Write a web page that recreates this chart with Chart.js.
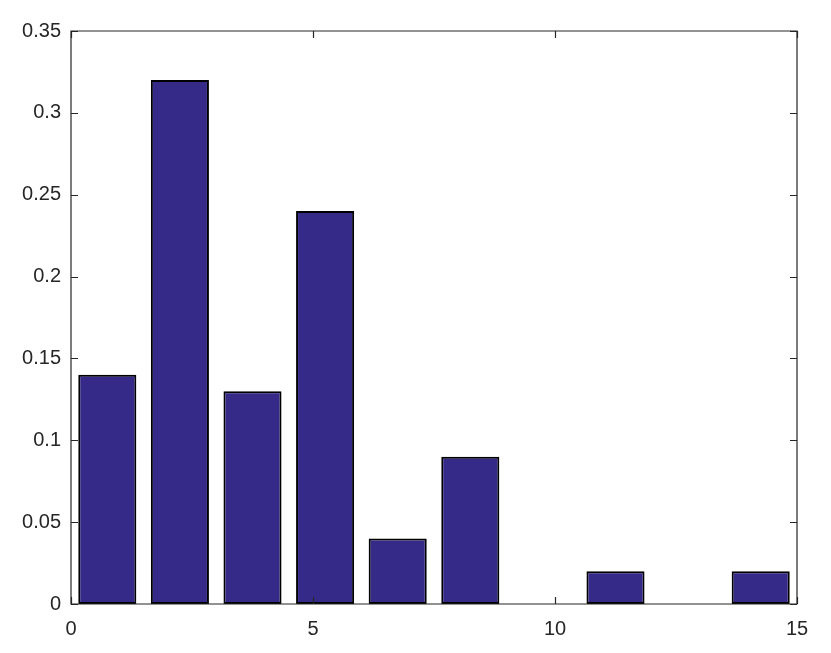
<!DOCTYPE html>
<html>
<head>
<meta charset="utf-8">
<script src="https://cdn.jsdelivr.net/npm/chart.js@4/dist/chart.umd.min.js"></script>
<style>
  html, body { margin: 0; padding: 0; background: #ffffff; }
  #wrap { width: 831px; height: 653px; position: relative; }
</style>
</head>
<body>
<div id="wrap"><canvas id="c" width="831" height="653"></canvas></div>
<script>
const binCenters = [0.75, 2.25, 3.75, 5.25, 6.75, 8.25, 9.75, 11.25, 12.75, 14.25];
const binValues  = [0.14, 0.32, 0.13, 0.24, 0.04, 0.09, 0, 0.02, 0, 0.02];
const xTicks = [0, 5, 10, 15];
const yTicks = [0, 0.05, 0.1, 0.15, 0.2, 0.25, 0.3, 0.35];

const axisColor = '#262626';
const tickLen = 7;

const boxTicks = {
  id: 'boxTicks',
  afterDraw(chart) {
    const ctx = chart.ctx;
    const a = chart.chartArea;
    const xs = chart.scales.x, ys = chart.scales.y;
    ctx.save();
    ctx.strokeStyle = axisColor;
    ctx.lineWidth = 1.2;
    ctx.beginPath();
    ctx.rect(a.left, a.top, a.right - a.left, a.bottom - a.top);
    ctx.stroke();
    ctx.beginPath();
    xTicks.forEach(v => {
      const px = Math.round(xs.getPixelForValue(v)) + 0.5;
      ctx.moveTo(px, a.bottom); ctx.lineTo(px, a.bottom - tickLen);
      ctx.moveTo(px, a.top); ctx.lineTo(px, a.top + tickLen);
    });
    yTicks.forEach(v => {
      const py = Math.round(ys.getPixelForValue(v)) + 0.5;
      ctx.moveTo(a.left, py); ctx.lineTo(a.left + tickLen, py);
      ctx.moveTo(a.right, py); ctx.lineTo(a.right - tickLen, py);
    });
    ctx.stroke();
    ctx.restore();
  }
};

new Chart(document.getElementById('c'), {
  type: 'bar',
  data: {
    datasets: [{
      data: binCenters.map((x, i) => ({ x: x, y: binValues[i] })),
      backgroundColor: '#352a87',
      borderColor: '#000000',
      borderWidth: 2,
      borderSkipped: false,
      barPercentage: 0.8,
      categoryPercentage: 1.0
    }]
  },
  options: {
    responsive: false,
    animation: false,
    layout: { padding: { top: 31, right: 34, left: 0, bottom: 0 } },
    plugins: { legend: { display: false }, tooltip: { enabled: false } },
    scales: {
      x: {
        type: 'linear',
        offset: false,
        min: 0, max: 15,
        afterBuildTicks: s => { s.ticks = xTicks.map(v => ({ value: v })); },
        afterFit: s => { s.height = 49; },
        grid: { display: false, drawTicks: false },
        border: { display: false },
        ticks: {
          color: axisColor,
          font: { family: 'Liberation Sans, Arial, sans-serif', size: 20 },
          padding: 13,
          maxRotation: 0,
          callback: v => String(v)
        }
      },
      y: {
        type: 'linear',
        min: 0, max: 0.35,
        afterBuildTicks: s => { s.ticks = yTicks.map(v => ({ value: v })); },
        afterFit: s => { s.width = 71; },
        grid: { display: false, drawTicks: false },
        border: { display: false },
        ticks: {
          color: axisColor,
          font: { family: 'Liberation Sans, Arial, sans-serif', size: 20 },
          padding: 10,
          callback: v => String(Math.round(v * 100) / 100)
        }
      }
    }
  },
  plugins: [boxTicks]
});
</script>
</body>
</html>
